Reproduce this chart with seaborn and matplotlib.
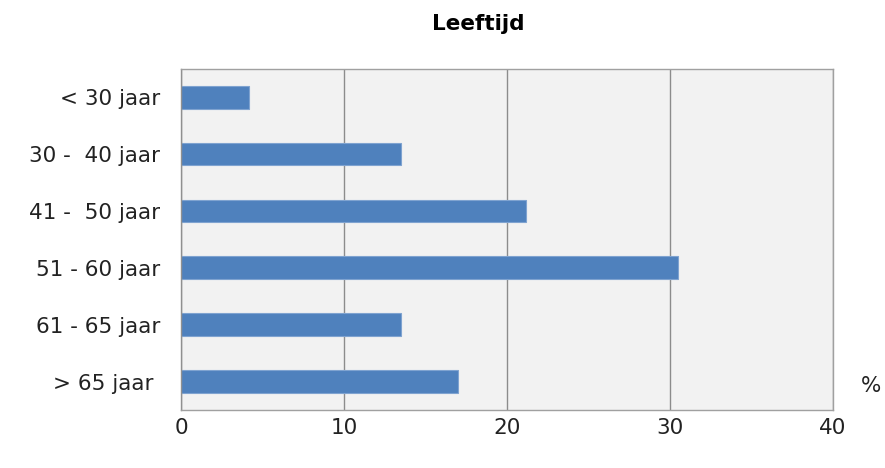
import matplotlib
matplotlib.use('Agg')
import matplotlib.pyplot as plt
import seaborn as sns
import pandas as pd

categories = ['< 30 jaar', '30 -  40 jaar', '41 -  50 jaar', '51 - 60 jaar', '61 - 65 jaar', '> 65 jaar ']
values = [4.2, 13.5, 21.2, 30.5, 13.5, 17.0]
x_ticks = [0, 10, 20, 30, 40]

sns.set_style('white')
plt.rcParams['font.family'] = ['DejaVu Sans']

data = pd.DataFrame({'category': categories, 'value': values})

fig = plt.figure(figsize=(8.85, 4.68), dpi=100)
ax = fig.add_axes([0.2045, 0.124, 0.7365, 0.729])
ax.set_facecolor('#F2F2F2')

sns.barplot(data=data, x='value', y='category', orient='h', color='#4F81BD',
            saturation=1, width=0.4, edgecolor='#7FA3D0', linewidth=0.8, ax=ax)

ax.set_xlim(0, 40)
ax.set_xticks(x_ticks)
ax.set_xticklabels([str(t) for t in x_ticks])
ax.grid(axis='x', color='#8C8C8C', linewidth=1)
ax.set_axisbelow(True)
ax.set_xlabel('')
ax.set_ylabel('')
for side in ax.spines.values():
    side.set_color('#A0A0A0')
    side.set_linewidth(1)
ax.spines['left'].set_color('#909090')
ax.tick_params(axis='x', length=0, pad=6, labelsize=15.5, labelcolor='#222222')
ax.tick_params(axis='y', length=0, pad=15, labelsize=15.5, labelcolor='#222222')

ax.text(1.058, 0.07, '%', transform=ax.transAxes, fontsize=15.5, color='#222222',
        ha='center', va='center')
fig.suptitle('Leeftijd', x=0.54, y=0.97, fontsize=15.5, fontweight='bold', color='black')

fig.savefig('out.png', dpi=100)
